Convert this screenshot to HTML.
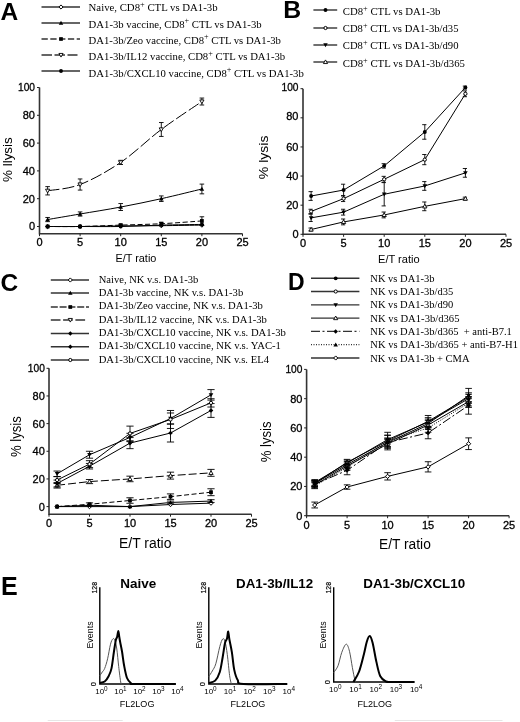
<!DOCTYPE html>
<html><head><meta charset="utf-8"><style>
html,body{margin:0;padding:0;background:#fff;width:520px;height:722px;overflow:hidden;}
svg{display:block;filter:grayscale(1) blur(0.35px);}
</style></head><body>
<svg width="520" height="722" viewBox="0 0 520 722">
<rect width="520" height="722" fill="#fff"/>
<text x="0.5" y="20" font-family="'Liberation Sans', sans-serif" font-weight="bold" font-size="24.5" fill="#000">A</text>
<text x="283.2" y="17.9" font-family="'Liberation Sans', sans-serif" font-weight="bold" font-size="24.8" fill="#000">B</text>
<text x="0.5" y="291.3" font-family="'Liberation Sans', sans-serif" font-weight="bold" font-size="24.5" fill="#000">C</text>
<text x="288" y="290" font-family="'Liberation Sans', sans-serif" font-weight="bold" font-size="23" fill="#000">D</text>
<text x="1" y="595" font-family="'Liberation Sans', sans-serif" font-weight="bold" font-size="25" fill="#000">E</text>
<path d="M41.5 7H80" stroke="#333" stroke-width="1.4"/>
<path d="M61 4.92L63.08 7L61 9.08L58.92 7Z" fill="#fff" stroke="#000" stroke-width="1"/>
<text x="88.6" y="10.9" font-family="'Liberation Serif', serif" font-size="10.7" textLength="129" lengthAdjust="spacingAndGlyphs" fill="#000" xml:space="preserve">Naive, CD8<tspan dy="-4.3" font-size="8.2">+</tspan><tspan dy="4.3"> CTL vs DA1-3b</tspan></text>
<path d="M41.5 23H80" stroke="#333" stroke-width="1.4"/>
<path d="M61 20.76L63.24 24.68L58.76 24.68Z" fill="#000"/>
<text x="88.6" y="27.6" font-family="'Liberation Serif', serif" font-size="10.7" textLength="173" lengthAdjust="spacingAndGlyphs" fill="#000" xml:space="preserve">DA1-3b vaccine, CD8<tspan dy="-4.3" font-size="8.2">+</tspan><tspan dy="4.3"> CTL vs DA1-3b</tspan></text>
<path d="M41.5 39H80" stroke="#333" stroke-width="1.4" stroke-dasharray="6.3 2.5"/>
<rect x="59.16" y="37.16" width="3.68" height="3.68" fill="#000"/>
<text x="88.6" y="43.7" font-family="'Liberation Serif', serif" font-size="10.7" textLength="192.3" lengthAdjust="spacingAndGlyphs" fill="#000" xml:space="preserve">DA1-3b/Zeo vaccine, CD8<tspan dy="-4.3" font-size="8.2">+</tspan><tspan dy="4.3"> CTL vs DA1-3b</tspan></text>
<path d="M41.5 55H77.5" stroke="#333" stroke-width="1.4" stroke-dasharray="10.5 2.5"/>
<path d="M61 57.08L63.08 53.44L58.92 53.44Z" fill="#fff" stroke="#000" stroke-width="0.9"/>
<text x="88.6" y="60.3" font-family="'Liberation Serif', serif" font-size="10.7" textLength="196.6" lengthAdjust="spacingAndGlyphs" fill="#000" xml:space="preserve">DA1-3b/IL12 vaccine, CD8<tspan dy="-4.3" font-size="8.2">+</tspan><tspan dy="4.3"> CTL vs DA1-3b</tspan></text>
<path d="M41.5 71H80" stroke="#333" stroke-width="1.4"/>
<circle cx="61" cy="71" r="1.92" fill="#000"/>
<text x="88.6" y="76.5" font-family="'Liberation Serif', serif" font-size="10.7" textLength="215.2" lengthAdjust="spacingAndGlyphs" fill="#000" xml:space="preserve">DA1-3b/CXCL10 vaccine, CD8<tspan dy="-4.3" font-size="8.2">+</tspan><tspan dy="4.3"> CTL vs DA1-3b</tspan></text>
<path d="M313.4 10H337.2" stroke="#333" stroke-width="1.4"/>
<circle cx="325.5" cy="10" r="1.92" fill="#000"/>
<text x="342.8" y="15.3" font-family="'Liberation Serif', serif" font-size="10.7" textLength="97.7" lengthAdjust="spacingAndGlyphs" fill="#000" xml:space="preserve">CD8<tspan dy="-4.3" font-size="8.2">+</tspan><tspan dy="4.3"> CTL vs DA1-3b</tspan></text>
<path d="M313.4 28H337.2" stroke="#333" stroke-width="1.4"/>
<circle cx="325.5" cy="28" r="1.6" fill="#fff" stroke="#000" stroke-width="1"/>
<text x="342.8" y="32.3" font-family="'Liberation Serif', serif" font-size="10.7" textLength="115.7" lengthAdjust="spacingAndGlyphs" fill="#000" xml:space="preserve">CD8<tspan dy="-4.3" font-size="8.2">+</tspan><tspan dy="4.3"> CTL vs DA1-3b/d35</tspan></text>
<path d="M313.4 45H337.2" stroke="#333" stroke-width="1.4"/>
<path d="M325.5 47.24L327.74 43.32L323.26 43.32Z" fill="#000"/>
<text x="342.8" y="49.4" font-family="'Liberation Serif', serif" font-size="10.7" textLength="115.7" lengthAdjust="spacingAndGlyphs" fill="#000" xml:space="preserve">CD8<tspan dy="-4.3" font-size="8.2">+</tspan><tspan dy="4.3"> CTL vs DA1-3b/d90</tspan></text>
<path d="M313.4 62H337.2" stroke="#333" stroke-width="1.4"/>
<path d="M325.5 59.92L327.58 63.56L323.42 63.56Z" fill="#fff" stroke="#000" stroke-width="0.9"/>
<text x="342.8" y="67.2" font-family="'Liberation Serif', serif" font-size="10.7" textLength="122.2" lengthAdjust="spacingAndGlyphs" fill="#000" xml:space="preserve">CD8<tspan dy="-4.3" font-size="8.2">+</tspan><tspan dy="4.3"> CTL vs DA1-3b/d365</tspan></text>
<path d="M50.8 280H89" stroke="#333" stroke-width="1.4"/>
<path d="M70.3 277.92L72.38 280L70.3 282.08L68.22 280Z" fill="#fff" stroke="#000" stroke-width="1"/>
<text x="98.7" y="282.9" font-family="'Liberation Serif', serif" font-size="10.6" textLength="99.6" lengthAdjust="spacingAndGlyphs" fill="#000" xml:space="preserve">Naive, NK v.s. DA1-3b</text>
<path d="M50.8 293H89" stroke="#333" stroke-width="1.4"/>
<path d="M70.3 290.76L72.54 294.68L68.06 294.68Z" fill="#000"/>
<text x="98.7" y="296" font-family="'Liberation Serif', serif" font-size="10.6" textLength="144.5" lengthAdjust="spacingAndGlyphs" fill="#000" xml:space="preserve">DA1-3b vaccine, NK v.s. DA1-3b</text>
<path d="M50.8 307H89" stroke="#333" stroke-width="1.4" stroke-dasharray="7 1.8"/>
<rect x="68.46" y="305.16" width="3.68" height="3.68" fill="#000"/>
<text x="98.7" y="309.3" font-family="'Liberation Serif', serif" font-size="10.6" textLength="164.2" lengthAdjust="spacingAndGlyphs" fill="#000" xml:space="preserve">DA1-3b/Zeo vaccine, NK v.s. DA1-3b</text>
<path d="M50.8 320H86.6" stroke="#333" stroke-width="1.4" stroke-dasharray="9.7 2.6"/>
<path d="M70.3 322.08L72.38 318.44L68.22 318.44Z" fill="#fff" stroke="#000" stroke-width="0.9"/>
<text x="98.7" y="322.6" font-family="'Liberation Serif', serif" font-size="10.6" textLength="168.2" lengthAdjust="spacingAndGlyphs" fill="#000" xml:space="preserve">DA1-3b/IL12 vaccine, NK v.s. DA1-3b</text>
<path d="M50.8 333.5H89" stroke="#333" stroke-width="1.4"/>
<path d="M70.3 331.26L72.54 333.5L70.3 335.74L68.06 333.5Z" fill="#000"/>
<text x="98.7" y="336.1" font-family="'Liberation Serif', serif" font-size="10.6" textLength="187.1" lengthAdjust="spacingAndGlyphs" fill="#000" xml:space="preserve">DA1-3b/CXCL10 vaccine, NK v.s. DA1-3b</text>
<path d="M50.8 346.8H89" stroke="#333" stroke-width="1.4"/>
<path d="M70.3 344.56L72.54 346.8L70.3 349.04L68.06 346.8Z" fill="#000"/>
<text x="98.7" y="349.4" font-family="'Liberation Serif', serif" font-size="10.6" textLength="182.2" lengthAdjust="spacingAndGlyphs" fill="#000" xml:space="preserve">DA1-3b/CXCL10 vaccine, NK v.s. YAC-1</text>
<path d="M50.8 360H89" stroke="#333" stroke-width="1.4"/>
<circle cx="70.3" cy="360" r="1.6" fill="#fff" stroke="#000" stroke-width="1"/>
<text x="98.7" y="362.9" font-family="'Liberation Serif', serif" font-size="10.6" textLength="170.3" lengthAdjust="spacingAndGlyphs" fill="#000" xml:space="preserve">DA1-3b/CXCL10 vaccine, NK v.s. EL4</text>
<path d="M311 278.3H359.4" stroke="#333" stroke-width="1.4"/>
<circle cx="335.7" cy="278.3" r="1.92" fill="#000"/>
<text x="370.3" y="281.7" font-family="'Liberation Serif', serif" font-size="10.5" textLength="64.2" lengthAdjust="spacingAndGlyphs" fill="#000" xml:space="preserve">NK vs DA1-3b</text>
<path d="M311 291.5H359.4" stroke="#333" stroke-width="1.4"/>
<circle cx="335.7" cy="291.5" r="1.6" fill="#fff" stroke="#000" stroke-width="1"/>
<text x="370.3" y="295" font-family="'Liberation Serif', serif" font-size="10.5" textLength="83" lengthAdjust="spacingAndGlyphs" fill="#000" xml:space="preserve">NK vs DA1-3b/d35</text>
<path d="M311 304.9H359.4" stroke="#333" stroke-width="1.4"/>
<path d="M335.7 307.14L337.94 303.22L333.46 303.22Z" fill="#000"/>
<text x="370.3" y="308.3" font-family="'Liberation Serif', serif" font-size="10.5" textLength="83" lengthAdjust="spacingAndGlyphs" fill="#000" xml:space="preserve">NK vs DA1-3b/d90</text>
<path d="M311 318.1H359.4" stroke="#333" stroke-width="1.4"/>
<path d="M335.7 316.02L337.78 319.66L333.62 319.66Z" fill="#fff" stroke="#000" stroke-width="0.9"/>
<text x="370.3" y="321.5" font-family="'Liberation Serif', serif" font-size="10.5" textLength="89.2" lengthAdjust="spacingAndGlyphs" fill="#000" xml:space="preserve">NK vs DA1-3b/d365</text>
<path d="M311 331.4H359.4" stroke="#333" stroke-width="1.4" stroke-dasharray="9 2.5 2 2.5"/>
<path d="M335.7 329.16L337.94 331.4L335.7 333.64L333.46 331.4Z" fill="#000"/>
<text x="370.3" y="334.8" font-family="'Liberation Serif', serif" font-size="10.5" textLength="141.5" lengthAdjust="spacingAndGlyphs" fill="#000" xml:space="preserve">NK vs DA1-3b/d365  + anti-B7.1</text>
<path d="M311 344.7H359.4" stroke="#333" stroke-width="1.2" stroke-dasharray="1 1.5"/>
<path d="M335.7 342.46L337.94 346.38L333.46 346.38Z" fill="#000"/>
<text x="370.3" y="348.1" font-family="'Liberation Serif', serif" font-size="10.5" textLength="147.7" lengthAdjust="spacingAndGlyphs" fill="#000" xml:space="preserve">NK vs DA1-3b/d365 + anti-B7-H1</text>
<path d="M311 358H359.4" stroke="#333" stroke-width="1.4"/>
<path d="M335.7 355.92L337.78 358L335.7 360.08L333.62 358Z" fill="#fff" stroke="#000" stroke-width="1"/>
<text x="370.3" y="361.6" font-family="'Liberation Serif', serif" font-size="10.5" textLength="99.2" lengthAdjust="spacingAndGlyphs" fill="#000" xml:space="preserve">NK vs DA1-3b + CMA</text>
<path d="M39.5 87.5V233.7H242.5" fill="none" stroke="#333" stroke-width="1.6"/>
<path d="M37 226.5H39.5" stroke="#222" stroke-width="1"/>
<text x="35" y="230.4" font-family="'Liberation Sans', sans-serif" font-size="11" text-anchor="end" fill="#000" stroke="#000" stroke-width="0.3">0</text>
<path d="M37 198.7H39.5" stroke="#222" stroke-width="1"/>
<text x="35" y="202.6" font-family="'Liberation Sans', sans-serif" font-size="11" text-anchor="end" fill="#000" stroke="#000" stroke-width="0.3">20</text>
<path d="M37 170.9H39.5" stroke="#222" stroke-width="1"/>
<text x="35" y="174.8" font-family="'Liberation Sans', sans-serif" font-size="11" text-anchor="end" fill="#000" stroke="#000" stroke-width="0.3">40</text>
<path d="M37 143.1H39.5" stroke="#222" stroke-width="1"/>
<text x="35" y="147" font-family="'Liberation Sans', sans-serif" font-size="11" text-anchor="end" fill="#000" stroke="#000" stroke-width="0.3">60</text>
<path d="M37 115.3H39.5" stroke="#222" stroke-width="1"/>
<text x="35" y="119.2" font-family="'Liberation Sans', sans-serif" font-size="11" text-anchor="end" fill="#000" stroke="#000" stroke-width="0.3">80</text>
<path d="M37 87.5H39.5" stroke="#222" stroke-width="1"/>
<text x="35" y="91.4" font-family="'Liberation Sans', sans-serif" font-size="11" text-anchor="end" textLength="17" lengthAdjust="spacingAndGlyphs" fill="#000" stroke="#000" stroke-width="0.3">100</text>
<path d="M39.5 233.7V236.2" stroke="#222" stroke-width="1"/>
<text x="39.5" y="246" font-family="'Liberation Sans', sans-serif" font-size="11" text-anchor="middle" fill="#000" stroke="#000" stroke-width="0.3">0</text>
<path d="M80.1 233.7V236.2" stroke="#222" stroke-width="1"/>
<text x="80.1" y="246" font-family="'Liberation Sans', sans-serif" font-size="11" text-anchor="middle" fill="#000" stroke="#000" stroke-width="0.3">5</text>
<path d="M120.7 233.7V236.2" stroke="#222" stroke-width="1"/>
<text x="120.7" y="246" font-family="'Liberation Sans', sans-serif" font-size="11" text-anchor="middle" fill="#000" stroke="#000" stroke-width="0.3">10</text>
<path d="M161.3 233.7V236.2" stroke="#222" stroke-width="1"/>
<text x="161.3" y="246" font-family="'Liberation Sans', sans-serif" font-size="11" text-anchor="middle" fill="#000" stroke="#000" stroke-width="0.3">15</text>
<path d="M201.9 233.7V236.2" stroke="#222" stroke-width="1"/>
<text x="201.9" y="246" font-family="'Liberation Sans', sans-serif" font-size="11" text-anchor="middle" fill="#000" stroke="#000" stroke-width="0.3">20</text>
<path d="M242.5 233.7V236.2" stroke="#222" stroke-width="1"/>
<text x="242.5" y="246" font-family="'Liberation Sans', sans-serif" font-size="11" text-anchor="middle" fill="#000" stroke="#000" stroke-width="0.3">25</text>
<text x="115.4" y="261.5" font-family="'Liberation Sans', sans-serif" font-size="11" textLength="41" lengthAdjust="spacingAndGlyphs" fill="#000">E/T ratio</text>
<text transform="translate(11.9 181.9) rotate(-90)" x="0" y="0" font-family="'Liberation Sans', sans-serif" font-size="12.8" textLength="44.6" lengthAdjust="spacingAndGlyphs" fill="#000">% llysis</text>
<path d="M47.62 226.5C53.03 226.5 67.92 226.59 80.1 226.5C92.28 226.41 107.17 226.08 120.7 225.94C134.23 225.8 147.77 225.81 161.3 225.67C174.83 225.53 195.13 225.2 201.9 225.11" fill="none" stroke="#000" stroke-width="1"/>
<path d="M47.62 224.37L49.75 226.5L47.62 228.63L45.49 226.5Z" fill="#fff" stroke="#000" stroke-width="1"/>
<path d="M80.1 224.37L82.23 226.5L80.1 228.63L77.97 226.5Z" fill="#fff" stroke="#000" stroke-width="1"/>
<path d="M120.7 223.81L122.83 225.94L120.7 228.08L118.57 225.94Z" fill="#fff" stroke="#000" stroke-width="1"/>
<path d="M161.3 223.53L163.43 225.67L161.3 227.8L159.17 225.67Z" fill="#fff" stroke="#000" stroke-width="1"/>
<path d="M201.9 222.98L204.03 225.11L201.9 227.24L199.77 225.11Z" fill="#fff" stroke="#000" stroke-width="1"/>
<path d="M47.62 219.55C53.03 218.62 67.92 216.08 80.1 213.99C92.28 211.91 107.17 209.59 120.7 207.04C134.23 204.49 147.77 201.71 161.3 198.7C174.83 195.69 195.13 190.59 201.9 188.97" fill="none" stroke="#000" stroke-width="1"/>
<path d="M47.62 217.47V221.64M45.32 217.47H49.92M45.32 221.64H49.92" stroke="#000" stroke-width="0.9" fill="none"/>
<path d="M80.1 211.91V216.08M77.8 211.91H82.4M77.8 216.08H82.4" stroke="#000" stroke-width="0.9" fill="none"/>
<path d="M120.7 203.56V210.51M118.4 203.56H123M118.4 210.51H123" stroke="#000" stroke-width="0.9" fill="none"/>
<path d="M161.3 195.92V201.48M159 195.92H163.6M159 201.48H163.6" stroke="#000" stroke-width="0.9" fill="none"/>
<path d="M201.9 184.1V193.84M199.6 184.1H204.2M199.6 193.84H204.2" stroke="#000" stroke-width="0.9" fill="none"/>
<path d="M47.62 217.25L49.92 221.27L45.32 221.27Z" fill="#000"/>
<path d="M80.1 211.69L82.4 215.71L77.8 215.71Z" fill="#000"/>
<path d="M120.7 204.74L123 208.76L118.4 208.76Z" fill="#000"/>
<path d="M161.3 196.4L163.6 200.42L159 200.42Z" fill="#000"/>
<path d="M201.9 186.67L204.2 190.69L199.6 190.69Z" fill="#000"/>
<path d="M47.62 226.5C53.03 226.5 67.92 226.73 80.1 226.5C92.28 226.27 107.17 225.57 120.7 225.11C134.23 224.65 147.77 224.41 161.3 223.72C174.83 223.03 195.13 221.4 201.9 220.94" fill="none" stroke="#000" stroke-width="1" stroke-dasharray="5 2.5"/>
<path d="M120.7 224.28V225.94M118.4 224.28H123M118.4 225.94H123" stroke="#000" stroke-width="0.9" fill="none"/>
<path d="M161.3 222.33V225.11M159 222.33H163.6M159 225.11H163.6" stroke="#000" stroke-width="0.9" fill="none"/>
<path d="M201.9 216.77V225.11M199.6 216.77H204.2M199.6 225.11H204.2" stroke="#000" stroke-width="0.9" fill="none"/>
<rect x="45.73" y="224.61" width="3.77" height="3.77" fill="#000"/>
<rect x="78.21" y="224.61" width="3.77" height="3.77" fill="#000"/>
<rect x="118.81" y="223.22" width="3.77" height="3.77" fill="#000"/>
<rect x="159.41" y="221.83" width="3.77" height="3.77" fill="#000"/>
<rect x="200.01" y="219.05" width="3.77" height="3.77" fill="#000"/>
<path d="M47.62 190.78C53.03 189.73 67.92 189.25 80.1 184.52C92.28 179.8 107.17 171.59 120.7 162.42C134.23 153.25 147.77 139.62 161.3 129.48C174.83 119.33 195.13 106.2 201.9 101.54" fill="none" stroke="#000" stroke-width="1" stroke-dasharray="12 3"/>
<path d="M47.62 186.61V194.95M45.32 186.61H49.92M45.32 194.95H49.92" stroke="#000" stroke-width="0.9" fill="none"/>
<path d="M80.1 178.96V190.08M77.8 178.96H82.4M77.8 190.08H82.4" stroke="#000" stroke-width="0.9" fill="none"/>
<path d="M120.7 160.34V164.51M118.4 160.34H123M118.4 164.51H123" stroke="#000" stroke-width="0.9" fill="none"/>
<path d="M161.3 122.53V136.43M159 122.53H163.6M159 136.43H163.6" stroke="#000" stroke-width="0.9" fill="none"/>
<path d="M201.9 98.06V105.01M199.6 98.06H204.2M199.6 105.01H204.2" stroke="#000" stroke-width="0.9" fill="none"/>
<path d="M47.62 192.91L49.75 189.18L45.49 189.18Z" fill="#fff" stroke="#000" stroke-width="0.9"/>
<path d="M80.1 186.65L82.23 182.92L77.97 182.92Z" fill="#fff" stroke="#000" stroke-width="0.9"/>
<path d="M120.7 164.55L122.83 160.82L118.57 160.82Z" fill="#fff" stroke="#000" stroke-width="0.9"/>
<path d="M161.3 131.61L163.43 127.88L159.17 127.88Z" fill="#fff" stroke="#000" stroke-width="0.9"/>
<path d="M201.9 103.67L204.03 99.94L199.77 99.94Z" fill="#fff" stroke="#000" stroke-width="0.9"/>
<path d="M47.62 226.5C53.03 226.5 67.92 226.5 80.1 226.5C92.28 226.5 107.17 226.73 120.7 226.5C134.23 226.27 147.77 225.46 161.3 225.11C174.83 224.76 195.13 224.53 201.9 224.41" fill="none" stroke="#000" stroke-width="1"/>
<circle cx="47.62" cy="226.5" r="1.97" fill="#000"/>
<circle cx="80.1" cy="226.5" r="1.97" fill="#000"/>
<circle cx="120.7" cy="226.5" r="1.97" fill="#000"/>
<circle cx="161.3" cy="225.11" r="1.97" fill="#000"/>
<circle cx="201.9" cy="224.41" r="1.97" fill="#000"/>
<path d="M303 88.7V234.3H506" fill="none" stroke="#333" stroke-width="1.6"/>
<path d="M300.5 234.3H303" stroke="#222" stroke-width="1"/>
<text x="298.5" y="238.2" font-family="'Liberation Sans', sans-serif" font-size="11" text-anchor="end" fill="#000" stroke="#000" stroke-width="0.3">0</text>
<path d="M300.5 205.18H303" stroke="#222" stroke-width="1"/>
<text x="298.5" y="209.08" font-family="'Liberation Sans', sans-serif" font-size="11" text-anchor="end" fill="#000" stroke="#000" stroke-width="0.3">20</text>
<path d="M300.5 176.06H303" stroke="#222" stroke-width="1"/>
<text x="298.5" y="179.96" font-family="'Liberation Sans', sans-serif" font-size="11" text-anchor="end" fill="#000" stroke="#000" stroke-width="0.3">40</text>
<path d="M300.5 146.94H303" stroke="#222" stroke-width="1"/>
<text x="298.5" y="150.84" font-family="'Liberation Sans', sans-serif" font-size="11" text-anchor="end" fill="#000" stroke="#000" stroke-width="0.3">60</text>
<path d="M300.5 117.82H303" stroke="#222" stroke-width="1"/>
<text x="298.5" y="119.72" font-family="'Liberation Sans', sans-serif" font-size="11" text-anchor="end" fill="#000" stroke="#000" stroke-width="0.3">80</text>
<path d="M300.5 88.7H303" stroke="#222" stroke-width="1"/>
<text x="298.5" y="91.1" font-family="'Liberation Sans', sans-serif" font-size="11" text-anchor="end" textLength="17" lengthAdjust="spacingAndGlyphs" fill="#000" stroke="#000" stroke-width="0.3">100</text>
<path d="M303 234.3V236.8" stroke="#222" stroke-width="1"/>
<text x="303" y="247" font-family="'Liberation Sans', sans-serif" font-size="11" text-anchor="middle" fill="#000" stroke="#000" stroke-width="0.3">0</text>
<path d="M343.6 234.3V236.8" stroke="#222" stroke-width="1"/>
<text x="343.6" y="247" font-family="'Liberation Sans', sans-serif" font-size="11" text-anchor="middle" fill="#000" stroke="#000" stroke-width="0.3">5</text>
<path d="M384.2 234.3V236.8" stroke="#222" stroke-width="1"/>
<text x="384.2" y="247" font-family="'Liberation Sans', sans-serif" font-size="11" text-anchor="middle" fill="#000" stroke="#000" stroke-width="0.3">10</text>
<path d="M424.8 234.3V236.8" stroke="#222" stroke-width="1"/>
<text x="424.8" y="247" font-family="'Liberation Sans', sans-serif" font-size="11" text-anchor="middle" fill="#000" stroke="#000" stroke-width="0.3">15</text>
<path d="M465.4 234.3V236.8" stroke="#222" stroke-width="1"/>
<text x="465.4" y="247" font-family="'Liberation Sans', sans-serif" font-size="11" text-anchor="middle" fill="#000" stroke="#000" stroke-width="0.3">20</text>
<path d="M506 234.3V236.8" stroke="#222" stroke-width="1"/>
<text x="506" y="247" font-family="'Liberation Sans', sans-serif" font-size="11" text-anchor="middle" fill="#000" stroke="#000" stroke-width="0.3">25</text>
<text x="378" y="262.5" font-family="'Liberation Sans', sans-serif" font-size="11" textLength="41.6" lengthAdjust="spacingAndGlyphs" fill="#000">E/T ratio</text>
<text transform="translate(268 179.2) rotate(-90)" x="0" y="0" font-family="'Liberation Sans', sans-serif" font-size="13" textLength="43.6" lengthAdjust="spacingAndGlyphs" fill="#000">% lysis</text>
<path d="M311.12 196.01L343.6 190.04L384.2 165.87L424.8 131.94L465.4 87.54" fill="none" stroke="#000" stroke-width="1"/>
<path d="M311.12 191.64V200.38M308.52 191.64H312.72M308.52 200.38H312.72" stroke="#000" stroke-width="0.9" fill="none"/>
<path d="M343.6 184.21V195.86M341 184.21H345.2M341 195.86H345.2" stroke="#000" stroke-width="0.9" fill="none"/>
<path d="M384.2 163.68V168.05M381.6 163.68H385.8M381.6 168.05H385.8" stroke="#000" stroke-width="0.9" fill="none"/>
<path d="M424.8 124.66V139.22M422.2 124.66H426.4M422.2 139.22H426.4" stroke="#000" stroke-width="0.9" fill="none"/>
<path d="M465.4 86.08V88.99M462.8 86.08H467M462.8 88.99H467" stroke="#000" stroke-width="0.9" fill="none"/>
<circle cx="311.12" cy="196.01" r="1.97" fill="#000"/>
<circle cx="343.6" cy="190.04" r="1.97" fill="#000"/>
<circle cx="384.2" cy="165.87" r="1.97" fill="#000"/>
<circle cx="424.8" cy="131.94" r="1.97" fill="#000"/>
<circle cx="465.4" cy="87.54" r="1.97" fill="#000"/>
<path d="M311.12 211.44L343.6 198.63L384.2 179.26L424.8 159.61L465.4 93.8" fill="none" stroke="#000" stroke-width="1"/>
<path d="M311.12 209.26V213.62M308.52 209.26H312.72M308.52 213.62H312.72" stroke="#000" stroke-width="0.9" fill="none"/>
<path d="M343.6 195.72V201.54M341 195.72H345.2M341 201.54H345.2" stroke="#000" stroke-width="0.9" fill="none"/>
<path d="M384.2 176.35V182.18M381.6 176.35H385.8M381.6 182.18H385.8" stroke="#000" stroke-width="0.9" fill="none"/>
<path d="M424.8 154.51V164.7M422.2 154.51H426.4M422.2 164.7H426.4" stroke="#000" stroke-width="0.9" fill="none"/>
<path d="M465.4 90.88V96.71M462.8 90.88H467M462.8 96.71H467" stroke="#000" stroke-width="0.9" fill="none"/>
<circle cx="311.12" cy="211.44" r="1.64" fill="#fff" stroke="#000" stroke-width="1"/>
<circle cx="343.6" cy="198.63" r="1.64" fill="#fff" stroke="#000" stroke-width="1"/>
<circle cx="384.2" cy="179.26" r="1.64" fill="#fff" stroke="#000" stroke-width="1"/>
<circle cx="424.8" cy="159.61" r="1.64" fill="#fff" stroke="#000" stroke-width="1"/>
<circle cx="465.4" cy="93.8" r="1.64" fill="#fff" stroke="#000" stroke-width="1"/>
<path d="M311.12 217.85L343.6 212.17L384.2 194.26L424.8 185.96L465.4 172.86" fill="none" stroke="#000" stroke-width="1"/>
<path d="M311.12 214.21V221.49M308.52 214.21H312.72M308.52 221.49H312.72" stroke="#000" stroke-width="0.9" fill="none"/>
<path d="M343.6 209.26V215.08M341 209.26H345.2M341 215.08H345.2" stroke="#000" stroke-width="0.9" fill="none"/>
<path d="M384.2 182.61V205.91M381.6 182.61H385.8M381.6 205.91H385.8" stroke="#000" stroke-width="0.9" fill="none"/>
<path d="M424.8 181.59V190.33M422.2 181.59H426.4M422.2 190.33H426.4" stroke="#000" stroke-width="0.9" fill="none"/>
<path d="M465.4 168.49V177.22M462.8 168.49H467M462.8 177.22H467" stroke="#000" stroke-width="0.9" fill="none"/>
<path d="M311.12 220.14L313.42 216.13L308.82 216.13Z" fill="#000"/>
<path d="M343.6 214.46L345.9 210.45L341.3 210.45Z" fill="#000"/>
<path d="M384.2 196.56L386.5 192.54L381.9 192.54Z" fill="#000"/>
<path d="M424.8 188.26L427.1 184.24L422.5 184.24Z" fill="#000"/>
<path d="M465.4 175.15L467.7 171.13L463.1 171.13Z" fill="#000"/>
<path d="M311.12 229.5L343.6 221.92L384.2 214.94L424.8 206.34L465.4 198.63" fill="none" stroke="#000" stroke-width="1"/>
<path d="M311.12 228.04V230.95M308.52 228.04H312.72M308.52 230.95H312.72" stroke="#000" stroke-width="0.9" fill="none"/>
<path d="M343.6 219.01V224.84M341 219.01H345.2M341 224.84H345.2" stroke="#000" stroke-width="0.9" fill="none"/>
<path d="M384.2 212.02V217.85M381.6 212.02H385.8M381.6 217.85H385.8" stroke="#000" stroke-width="0.9" fill="none"/>
<path d="M424.8 201.98V210.71M422.2 201.98H426.4M422.2 210.71H426.4" stroke="#000" stroke-width="0.9" fill="none"/>
<path d="M465.4 197.17V200.08M462.8 197.17H467M462.8 200.08H467" stroke="#000" stroke-width="0.9" fill="none"/>
<path d="M311.12 227.36L313.25 231.09L308.99 231.09Z" fill="#fff" stroke="#000" stroke-width="0.9"/>
<path d="M343.6 219.79L345.73 223.52L341.47 223.52Z" fill="#fff" stroke="#000" stroke-width="0.9"/>
<path d="M384.2 212.8L386.33 216.53L382.07 216.53Z" fill="#fff" stroke="#000" stroke-width="0.9"/>
<path d="M424.8 204.21L426.93 207.94L422.67 207.94Z" fill="#fff" stroke="#000" stroke-width="0.9"/>
<path d="M465.4 196.5L467.53 200.23L463.27 200.23Z" fill="#fff" stroke="#000" stroke-width="0.9"/>
<path d="M49 368.3V514.2H251.5" fill="none" stroke="#333" stroke-width="1.6"/>
<path d="M46.5 506.6H49" stroke="#222" stroke-width="1"/>
<text x="44.8" y="510.5" font-family="'Liberation Sans', sans-serif" font-size="11" text-anchor="end" fill="#000" stroke="#000" stroke-width="0.3">0</text>
<path d="M46.5 478.94H49" stroke="#222" stroke-width="1"/>
<text x="44.8" y="482.84" font-family="'Liberation Sans', sans-serif" font-size="11" text-anchor="end" fill="#000" stroke="#000" stroke-width="0.3">20</text>
<path d="M46.5 451.28H49" stroke="#222" stroke-width="1"/>
<text x="44.8" y="455.18" font-family="'Liberation Sans', sans-serif" font-size="11" text-anchor="end" fill="#000" stroke="#000" stroke-width="0.3">40</text>
<path d="M46.5 423.62H49" stroke="#222" stroke-width="1"/>
<text x="44.8" y="427.52" font-family="'Liberation Sans', sans-serif" font-size="11" text-anchor="end" fill="#000" stroke="#000" stroke-width="0.3">60</text>
<path d="M46.5 395.96H49" stroke="#222" stroke-width="1"/>
<text x="44.8" y="399.86" font-family="'Liberation Sans', sans-serif" font-size="11" text-anchor="end" fill="#000" stroke="#000" stroke-width="0.3">80</text>
<path d="M46.5 368.3H49" stroke="#222" stroke-width="1"/>
<text x="44.8" y="372.2" font-family="'Liberation Sans', sans-serif" font-size="11" text-anchor="end" textLength="17" lengthAdjust="spacingAndGlyphs" fill="#000" stroke="#000" stroke-width="0.3">100</text>
<path d="M49 514.2V516.7" stroke="#222" stroke-width="1"/>
<text x="49" y="527" font-family="'Liberation Sans', sans-serif" font-size="11" text-anchor="middle" fill="#000" stroke="#000" stroke-width="0.3">0</text>
<path d="M89.5 514.2V516.7" stroke="#222" stroke-width="1"/>
<text x="89.5" y="527" font-family="'Liberation Sans', sans-serif" font-size="11" text-anchor="middle" fill="#000" stroke="#000" stroke-width="0.3">5</text>
<path d="M130 514.2V516.7" stroke="#222" stroke-width="1"/>
<text x="130" y="527" font-family="'Liberation Sans', sans-serif" font-size="11" text-anchor="middle" fill="#000" stroke="#000" stroke-width="0.3">10</text>
<path d="M170.5 514.2V516.7" stroke="#222" stroke-width="1"/>
<text x="170.5" y="527" font-family="'Liberation Sans', sans-serif" font-size="11" text-anchor="middle" fill="#000" stroke="#000" stroke-width="0.3">15</text>
<path d="M211 514.2V516.7" stroke="#222" stroke-width="1"/>
<text x="211" y="527" font-family="'Liberation Sans', sans-serif" font-size="11" text-anchor="middle" fill="#000" stroke="#000" stroke-width="0.3">20</text>
<path d="M251.5 514.2V516.7" stroke="#222" stroke-width="1"/>
<text x="251.5" y="527" font-family="'Liberation Sans', sans-serif" font-size="11" text-anchor="middle" fill="#000" stroke="#000" stroke-width="0.3">25</text>
<text x="119" y="547.5" font-family="'Liberation Sans', sans-serif" font-size="14" textLength="52.4" lengthAdjust="spacingAndGlyphs" fill="#000">E/T ratio</text>
<text transform="translate(21.2 457) rotate(-90)" x="0" y="0" font-family="'Liberation Sans', sans-serif" font-size="13.8" textLength="40.8" lengthAdjust="spacingAndGlyphs" fill="#000">% lysis</text>
<path d="M57.1 506.6L89.5 506.6L130 506.6L170.5 504.53L211 503.14" fill="none" stroke="#000" stroke-width="1"/>
<path d="M57.1 504.47L59.23 506.6L57.1 508.73L54.97 506.6Z" fill="#fff" stroke="#000" stroke-width="1"/>
<path d="M89.5 504.47L91.63 506.6L89.5 508.73L87.37 506.6Z" fill="#fff" stroke="#000" stroke-width="1"/>
<path d="M130 504.47L132.13 506.6L130 508.73L127.87 506.6Z" fill="#fff" stroke="#000" stroke-width="1"/>
<path d="M170.5 502.39L172.63 504.53L170.5 506.66L168.37 504.53Z" fill="#fff" stroke="#000" stroke-width="1"/>
<path d="M211 501.01L213.13 503.14L211 505.27L208.87 503.14Z" fill="#fff" stroke="#000" stroke-width="1"/>
<path d="M57.1 506.6L89.5 505.22L130 506.6L170.5 502.45L211 501.07" fill="none" stroke="#000" stroke-width="1"/>
<path d="M170.5 501.07V503.83M166.9 501.07H174.1M166.9 503.83H174.1" stroke="#000" stroke-width="0.9" fill="none"/>
<path d="M211 499.69V502.45M207.4 499.69H214.6M207.4 502.45H214.6" stroke="#000" stroke-width="0.9" fill="none"/>
<path d="M57.1 504.3L59.4 508.32L54.8 508.32Z" fill="#000"/>
<path d="M89.5 502.92L91.8 506.94L87.2 506.94Z" fill="#000"/>
<path d="M130 504.3L132.3 508.32L127.7 508.32Z" fill="#000"/>
<path d="M170.5 500.16L172.8 504.17L168.2 504.17Z" fill="#000"/>
<path d="M211 498.77L213.3 502.79L208.7 502.79Z" fill="#000"/>
<path d="M57.1 506.6L89.5 504.25L130 500.51L170.5 496.64L211 492.22" fill="none" stroke="#000" stroke-width="1" stroke-dasharray="5 2.5"/>
<path d="M89.5 502.87V505.63M85.9 502.87H93.1M85.9 505.63H93.1" stroke="#000" stroke-width="0.9" fill="none"/>
<path d="M130 497.75V503.28M126.4 497.75H133.6M126.4 503.28H133.6" stroke="#000" stroke-width="0.9" fill="none"/>
<path d="M170.5 493.88V499.41M166.9 493.88H174.1M166.9 499.41H174.1" stroke="#000" stroke-width="0.9" fill="none"/>
<path d="M211 488.76V495.67M207.4 488.76H214.6M207.4 495.67H214.6" stroke="#000" stroke-width="0.9" fill="none"/>
<rect x="55.21" y="504.71" width="3.77" height="3.77" fill="#000"/>
<rect x="87.61" y="502.36" width="3.77" height="3.77" fill="#000"/>
<rect x="128.11" y="498.63" width="3.77" height="3.77" fill="#000"/>
<rect x="168.61" y="494.76" width="3.77" height="3.77" fill="#000"/>
<rect x="209.11" y="490.33" width="3.77" height="3.77" fill="#000"/>
<path d="M57.1 485.3L89.5 481.57L130 478.94L170.5 475.62L211 472.85" fill="none" stroke="#000" stroke-width="1" stroke-dasharray="8 3"/>
<path d="M57.1 482.54V488.07M53.5 482.54H60.7M53.5 488.07H60.7" stroke="#000" stroke-width="0.9" fill="none"/>
<path d="M89.5 479.49V483.64M85.9 479.49H93.1M85.9 483.64H93.1" stroke="#000" stroke-width="0.9" fill="none"/>
<path d="M130 476.17V481.71M126.4 476.17H133.6M126.4 481.71H133.6" stroke="#000" stroke-width="0.9" fill="none"/>
<path d="M170.5 472.16V479.08M166.9 472.16H174.1M166.9 479.08H174.1" stroke="#000" stroke-width="0.9" fill="none"/>
<path d="M211 469.4V476.31M207.4 469.4H214.6M207.4 476.31H214.6" stroke="#000" stroke-width="0.9" fill="none"/>
<path d="M57.1 483.17L59.23 486.9L54.97 486.9Z" fill="#fff" stroke="#000" stroke-width="0.9"/>
<path d="M89.5 479.44L91.63 483.17L87.37 483.17Z" fill="#fff" stroke="#000" stroke-width="0.9"/>
<path d="M130 476.81L132.13 480.54L127.87 480.54Z" fill="#fff" stroke="#000" stroke-width="0.9"/>
<path d="M170.5 473.49L172.63 477.22L168.37 477.22Z" fill="#fff" stroke="#000" stroke-width="0.9"/>
<path d="M211 470.72L213.13 474.45L208.87 474.45Z" fill="#fff" stroke="#000" stroke-width="0.9"/>
<path d="M57.1 483.5L89.5 466.22L130 443.12L170.5 433.02L211 410.48" fill="none" stroke="#000" stroke-width="1"/>
<path d="M57.1 480.05V486.96M53.5 480.05H60.7M53.5 486.96H60.7" stroke="#000" stroke-width="0.9" fill="none"/>
<path d="M89.5 463.45V468.98M85.9 463.45H93.1M85.9 468.98H93.1" stroke="#000" stroke-width="0.9" fill="none"/>
<path d="M130 437.59V448.65M126.4 437.59H133.6M126.4 448.65H133.6" stroke="#000" stroke-width="0.9" fill="none"/>
<path d="M170.5 424.03V442.01M166.9 424.03H174.1M166.9 442.01H174.1" stroke="#000" stroke-width="0.9" fill="none"/>
<path d="M211 403.57V417.4M207.4 403.57H214.6M207.4 417.4H214.6" stroke="#000" stroke-width="0.9" fill="none"/>
<path d="M57.1 481.21L59.4 483.5L57.1 485.8L54.8 483.5Z" fill="#000"/>
<path d="M89.5 463.92L91.8 466.22L89.5 468.51L87.2 466.22Z" fill="#000"/>
<path d="M130 440.82L132.3 443.12L130 445.42L127.7 443.12Z" fill="#000"/>
<path d="M170.5 430.73L172.8 433.02L170.5 435.32L168.2 433.02Z" fill="#000"/>
<path d="M211 408.19L213.3 410.48L211 412.78L208.7 410.48Z" fill="#000"/>
<path d="M57.1 473.82L89.5 454.74L130 437.45L170.5 418.5L211 394.85" fill="none" stroke="#000" stroke-width="1"/>
<path d="M57.1 471.06V476.59M53.5 471.06H60.7M53.5 476.59H60.7" stroke="#000" stroke-width="0.9" fill="none"/>
<path d="M89.5 451.28V458.19M85.9 451.28H93.1M85.9 458.19H93.1" stroke="#000" stroke-width="0.9" fill="none"/>
<path d="M130 433.3V441.6M126.4 433.3H133.6M126.4 441.6H133.6" stroke="#000" stroke-width="0.9" fill="none"/>
<path d="M170.5 412.97V424.03M166.9 412.97H174.1M166.9 424.03H174.1" stroke="#000" stroke-width="0.9" fill="none"/>
<path d="M211 389.6V400.11M207.4 389.6H214.6M207.4 400.11H214.6" stroke="#000" stroke-width="0.9" fill="none"/>
<path d="M57.1 476.12L59.4 472.1L54.8 472.1Z" fill="#000"/>
<path d="M89.5 457.03L91.8 453.02L87.2 453.02Z" fill="#000"/>
<path d="M130 439.75L132.3 435.73L127.7 435.73Z" fill="#000"/>
<path d="M170.5 420.8L172.8 416.78L168.2 416.78Z" fill="#000"/>
<path d="M211 397.15L213.3 393.13L208.7 393.13Z" fill="#000"/>
<path d="M57.1 480.05L89.5 464.14L130 433.44L170.5 419.47L211 402.88" fill="none" stroke="#000" stroke-width="1"/>
<path d="M57.1 476.59V483.5M53.5 476.59H60.7M53.5 483.5H60.7" stroke="#000" stroke-width="0.9" fill="none"/>
<path d="M89.5 460.68V467.6M85.9 460.68H93.1M85.9 467.6H93.1" stroke="#000" stroke-width="0.9" fill="none"/>
<path d="M130 426.11V440.77M126.4 426.11H133.6M126.4 440.77H133.6" stroke="#000" stroke-width="0.9" fill="none"/>
<path d="M170.5 410.48V428.46M166.9 410.48H174.1M166.9 428.46H174.1" stroke="#000" stroke-width="0.9" fill="none"/>
<path d="M211 398.73V407.02M207.4 398.73H214.6M207.4 407.02H214.6" stroke="#000" stroke-width="0.9" fill="none"/>
<circle cx="57.1" cy="480.05" r="1.64" fill="#fff" stroke="#000" stroke-width="1"/>
<circle cx="89.5" cy="464.14" r="1.64" fill="#fff" stroke="#000" stroke-width="1"/>
<circle cx="130" cy="433.44" r="1.64" fill="#fff" stroke="#000" stroke-width="1"/>
<circle cx="170.5" cy="419.47" r="1.64" fill="#fff" stroke="#000" stroke-width="1"/>
<circle cx="211" cy="402.88" r="1.64" fill="#fff" stroke="#000" stroke-width="1"/>
<path d="M306.6 369.4V515.7H509.1" fill="none" stroke="#333" stroke-width="1.6"/>
<path d="M304.1 515.7H306.6" stroke="#222" stroke-width="1"/>
<text x="302.4" y="519.6" font-family="'Liberation Sans', sans-serif" font-size="11" text-anchor="end" fill="#000" stroke="#000" stroke-width="0.3">0</text>
<path d="M304.1 486.44H306.6" stroke="#222" stroke-width="1"/>
<text x="302.4" y="490.34" font-family="'Liberation Sans', sans-serif" font-size="11" text-anchor="end" fill="#000" stroke="#000" stroke-width="0.3">20</text>
<path d="M304.1 457.18H306.6" stroke="#222" stroke-width="1"/>
<text x="302.4" y="461.08" font-family="'Liberation Sans', sans-serif" font-size="11" text-anchor="end" fill="#000" stroke="#000" stroke-width="0.3">40</text>
<path d="M304.1 427.92H306.6" stroke="#222" stroke-width="1"/>
<text x="302.4" y="431.82" font-family="'Liberation Sans', sans-serif" font-size="11" text-anchor="end" fill="#000" stroke="#000" stroke-width="0.3">60</text>
<path d="M304.1 398.66H306.6" stroke="#222" stroke-width="1"/>
<text x="302.4" y="402.56" font-family="'Liberation Sans', sans-serif" font-size="11" text-anchor="end" fill="#000" stroke="#000" stroke-width="0.3">80</text>
<path d="M304.1 369.4H306.6" stroke="#222" stroke-width="1"/>
<text x="302.4" y="373.3" font-family="'Liberation Sans', sans-serif" font-size="11" text-anchor="end" textLength="17" lengthAdjust="spacingAndGlyphs" fill="#000" stroke="#000" stroke-width="0.3">100</text>
<path d="M306.6 515.7V518.2" stroke="#222" stroke-width="1"/>
<text x="306.6" y="528.5" font-family="'Liberation Sans', sans-serif" font-size="11" text-anchor="middle" fill="#000" stroke="#000" stroke-width="0.3">0</text>
<path d="M347.1 515.7V518.2" stroke="#222" stroke-width="1"/>
<text x="347.1" y="528.5" font-family="'Liberation Sans', sans-serif" font-size="11" text-anchor="middle" fill="#000" stroke="#000" stroke-width="0.3">5</text>
<path d="M387.6 515.7V518.2" stroke="#222" stroke-width="1"/>
<text x="387.6" y="528.5" font-family="'Liberation Sans', sans-serif" font-size="11" text-anchor="middle" fill="#000" stroke="#000" stroke-width="0.3">10</text>
<path d="M428.1 515.7V518.2" stroke="#222" stroke-width="1"/>
<text x="428.1" y="528.5" font-family="'Liberation Sans', sans-serif" font-size="11" text-anchor="middle" fill="#000" stroke="#000" stroke-width="0.3">15</text>
<path d="M468.6 515.7V518.2" stroke="#222" stroke-width="1"/>
<text x="468.6" y="528.5" font-family="'Liberation Sans', sans-serif" font-size="11" text-anchor="middle" fill="#000" stroke="#000" stroke-width="0.3">20</text>
<path d="M509.1 515.7V518.2" stroke="#222" stroke-width="1"/>
<text x="509.1" y="528.5" font-family="'Liberation Sans', sans-serif" font-size="11" text-anchor="middle" fill="#000" stroke="#000" stroke-width="0.3">25</text>
<text x="379" y="548.5" font-family="'Liberation Sans', sans-serif" font-size="14" textLength="51.8" lengthAdjust="spacingAndGlyphs" fill="#000">E/T ratio</text>
<text transform="translate(271.2 462.2) rotate(-90)" x="0" y="0" font-family="'Liberation Sans', sans-serif" font-size="13.8" textLength="40.8" lengthAdjust="spacingAndGlyphs" fill="#000">% lysis</text>
<path d="M314.7 482.49L347.1 463.03L387.6 439.62L428.1 422.07L468.6 398.66" fill="none" stroke="#000" stroke-width="1"/>
<path d="M314.7 479.56V485.42M311.4 479.56H318M311.4 485.42H318" stroke="#000" stroke-width="0.9" fill="none"/>
<path d="M347.1 460.11V465.96M343.8 460.11H350.4M343.8 465.96H350.4" stroke="#000" stroke-width="0.9" fill="none"/>
<path d="M387.6 435.24V444.01M384.3 435.24H390.9M384.3 444.01H390.9" stroke="#000" stroke-width="0.9" fill="none"/>
<path d="M428.1 417.68V426.46M424.8 417.68H431.4M424.8 426.46H431.4" stroke="#000" stroke-width="0.9" fill="none"/>
<path d="M468.6 394.27V403.05M465.3 394.27H471.9M465.3 403.05H471.9" stroke="#000" stroke-width="0.9" fill="none"/>
<circle cx="314.7" cy="482.49" r="1.97" fill="#000"/>
<circle cx="347.1" cy="463.03" r="1.97" fill="#000"/>
<circle cx="387.6" cy="439.62" r="1.97" fill="#000"/>
<circle cx="428.1" cy="422.07" r="1.97" fill="#000"/>
<circle cx="468.6" cy="398.66" r="1.97" fill="#000"/>
<path d="M314.7 483.51L347.1 462.3L387.6 441.09L428.1 421.34L468.6 397.2" fill="none" stroke="#000" stroke-width="1"/>
<path d="M314.7 480.59V486.44M311.4 480.59H318M311.4 486.44H318" stroke="#000" stroke-width="0.9" fill="none"/>
<path d="M347.1 459.37V465.23M343.8 459.37H350.4M343.8 465.23H350.4" stroke="#000" stroke-width="0.9" fill="none"/>
<path d="M387.6 435.24V446.94M384.3 435.24H390.9M384.3 446.94H390.9" stroke="#000" stroke-width="0.9" fill="none"/>
<path d="M428.1 415.48V427.19M424.8 415.48H431.4M424.8 427.19H431.4" stroke="#000" stroke-width="0.9" fill="none"/>
<path d="M468.6 392.81V401.59M465.3 392.81H471.9M465.3 401.59H471.9" stroke="#000" stroke-width="0.9" fill="none"/>
<circle cx="314.7" cy="483.51" r="1.64" fill="#fff" stroke="#000" stroke-width="1"/>
<circle cx="347.1" cy="462.3" r="1.64" fill="#fff" stroke="#000" stroke-width="1"/>
<circle cx="387.6" cy="441.09" r="1.64" fill="#fff" stroke="#000" stroke-width="1"/>
<circle cx="428.1" cy="421.34" r="1.64" fill="#fff" stroke="#000" stroke-width="1"/>
<circle cx="468.6" cy="397.2" r="1.64" fill="#fff" stroke="#000" stroke-width="1"/>
<path d="M314.7 483.51L347.1 464.5L387.6 442.55L428.1 423.53L468.6 395.73" fill="none" stroke="#000" stroke-width="1"/>
<path d="M314.7 480.59V486.44M311.4 480.59H318M311.4 486.44H318" stroke="#000" stroke-width="0.9" fill="none"/>
<path d="M347.1 461.57V467.42M343.8 461.57H350.4M343.8 467.42H350.4" stroke="#000" stroke-width="0.9" fill="none"/>
<path d="M387.6 438.16V446.94M384.3 438.16H390.9M384.3 446.94H390.9" stroke="#000" stroke-width="0.9" fill="none"/>
<path d="M428.1 419.14V427.92M424.8 419.14H431.4M424.8 427.92H431.4" stroke="#000" stroke-width="0.9" fill="none"/>
<path d="M468.6 388.42V403.05M465.3 388.42H471.9M465.3 403.05H471.9" stroke="#000" stroke-width="0.9" fill="none"/>
<path d="M314.7 485.81L317 481.79L312.4 481.79Z" fill="#000"/>
<path d="M347.1 466.79L349.4 462.77L344.8 462.77Z" fill="#000"/>
<path d="M387.6 444.85L389.9 440.83L385.3 440.83Z" fill="#000"/>
<path d="M428.1 425.83L430.4 421.81L425.8 421.81Z" fill="#000"/>
<path d="M468.6 398.03L470.9 394.01L466.3 394.01Z" fill="#000"/>
<path d="M314.7 484.98L347.1 465.96L387.6 444.01L428.1 424.99L468.6 401.59" fill="none" stroke="#000" stroke-width="1"/>
<path d="M314.7 482.05V487.9M311.4 482.05H318M311.4 487.9H318" stroke="#000" stroke-width="0.9" fill="none"/>
<path d="M347.1 463.03V468.88M343.8 463.03H350.4M343.8 468.88H350.4" stroke="#000" stroke-width="0.9" fill="none"/>
<path d="M387.6 439.62V448.4M384.3 439.62H390.9M384.3 448.4H390.9" stroke="#000" stroke-width="0.9" fill="none"/>
<path d="M428.1 420.61V429.38M424.8 420.61H431.4M424.8 429.38H431.4" stroke="#000" stroke-width="0.9" fill="none"/>
<path d="M468.6 397.2V405.98M465.3 397.2H471.9M465.3 405.98H471.9" stroke="#000" stroke-width="0.9" fill="none"/>
<path d="M314.7 482.85L316.83 486.58L312.57 486.58Z" fill="#fff" stroke="#000" stroke-width="0.9"/>
<path d="M347.1 463.83L349.23 467.56L344.97 467.56Z" fill="#fff" stroke="#000" stroke-width="0.9"/>
<path d="M387.6 441.88L389.73 445.61L385.47 445.61Z" fill="#fff" stroke="#000" stroke-width="0.9"/>
<path d="M428.1 422.86L430.23 426.59L425.97 426.59Z" fill="#fff" stroke="#000" stroke-width="0.9"/>
<path d="M468.6 399.45L470.73 403.19L466.47 403.19Z" fill="#fff" stroke="#000" stroke-width="0.9"/>
<path d="M314.7 484.25L347.1 470.35L387.6 442.55L428.1 432.89L468.6 405.39" fill="none" stroke="#000" stroke-width="1" stroke-dasharray="9 2.5 2 2.5"/>
<path d="M314.7 481.32V487.17M311.4 481.32H318M311.4 487.17H318" stroke="#000" stroke-width="0.9" fill="none"/>
<path d="M347.1 465.96V474.74M343.8 465.96H350.4M343.8 474.74H350.4" stroke="#000" stroke-width="0.9" fill="none"/>
<path d="M387.6 438.16V446.94M384.3 438.16H390.9M384.3 446.94H390.9" stroke="#000" stroke-width="0.9" fill="none"/>
<path d="M428.1 427.04V438.75M424.8 427.04H431.4M424.8 438.75H431.4" stroke="#000" stroke-width="0.9" fill="none"/>
<path d="M468.6 396.61V414.17M465.3 396.61H471.9M465.3 414.17H471.9" stroke="#000" stroke-width="0.9" fill="none"/>
<path d="M314.7 481.95L317 484.25L314.7 486.54L312.4 484.25Z" fill="#000"/>
<path d="M347.1 468.05L349.4 470.35L347.1 472.64L344.8 470.35Z" fill="#000"/>
<path d="M387.6 440.25L389.9 442.55L387.6 444.85L385.3 442.55Z" fill="#000"/>
<path d="M428.1 430.6L430.4 432.89L428.1 435.19L425.8 432.89Z" fill="#000"/>
<path d="M468.6 403.09L470.9 405.39L468.6 407.69L466.3 405.39Z" fill="#000"/>
<path d="M314.7 485.71L347.1 467.42L387.6 441.09L428.1 427.92L468.6 403.05" fill="none" stroke="#000" stroke-width="1" stroke-dasharray="1 1.5"/>
<path d="M314.7 482.78V488.63M311.4 482.78H318M311.4 488.63H318" stroke="#000" stroke-width="0.9" fill="none"/>
<path d="M347.1 464.5V470.35M343.8 464.5H350.4M343.8 470.35H350.4" stroke="#000" stroke-width="0.9" fill="none"/>
<path d="M387.6 432.31V449.87M384.3 432.31H390.9M384.3 449.87H390.9" stroke="#000" stroke-width="0.9" fill="none"/>
<path d="M428.1 423.53V432.31M424.8 423.53H431.4M424.8 432.31H431.4" stroke="#000" stroke-width="0.9" fill="none"/>
<path d="M468.6 398.66V407.44M465.3 398.66H471.9M465.3 407.44H471.9" stroke="#000" stroke-width="0.9" fill="none"/>
<path d="M314.7 483.41L317 487.43L312.4 487.43Z" fill="#000"/>
<path d="M347.1 465.13L349.4 469.14L344.8 469.14Z" fill="#000"/>
<path d="M387.6 438.79L389.9 442.81L385.3 442.81Z" fill="#000"/>
<path d="M428.1 425.62L430.4 429.64L425.8 429.64Z" fill="#000"/>
<path d="M468.6 400.75L470.9 404.77L466.3 404.77Z" fill="#000"/>
<path d="M314.7 505.02L347.1 487.03L387.6 476.35L428.1 466.84L468.6 443.72" fill="none" stroke="#000" stroke-width="1"/>
<path d="M314.7 502.09V507.95M311.4 502.09H318M311.4 507.95H318" stroke="#000" stroke-width="0.9" fill="none"/>
<path d="M347.1 484.83V489.22M343.8 484.83H350.4M343.8 489.22H350.4" stroke="#000" stroke-width="0.9" fill="none"/>
<path d="M387.6 472.69V480M384.3 472.69H390.9M384.3 480H390.9" stroke="#000" stroke-width="0.9" fill="none"/>
<path d="M428.1 461.72V471.96M424.8 461.72H431.4M424.8 471.96H431.4" stroke="#000" stroke-width="0.9" fill="none"/>
<path d="M468.6 437.87V449.57M465.3 437.87H471.9M465.3 449.57H471.9" stroke="#000" stroke-width="0.9" fill="none"/>
<path d="M314.7 502.89L316.83 505.02L314.7 507.15L312.57 505.02Z" fill="#fff" stroke="#000" stroke-width="1"/>
<path d="M347.1 484.89L349.23 487.03L347.1 489.16L344.97 487.03Z" fill="#fff" stroke="#000" stroke-width="1"/>
<path d="M387.6 474.21L389.73 476.35L387.6 478.48L385.47 476.35Z" fill="#fff" stroke="#000" stroke-width="1"/>
<path d="M428.1 464.7L430.23 466.84L428.1 468.97L425.97 466.84Z" fill="#fff" stroke="#000" stroke-width="1"/>
<path d="M468.6 441.59L470.73 443.72L468.6 445.85L466.47 443.72Z" fill="#fff" stroke="#000" stroke-width="1"/>
<path d="M99.8 587.2V684H175.8" fill="none" stroke="#000" stroke-width="1.4"/>
<text x="95.2" y="694" font-family="'Liberation Sans', sans-serif" font-size="8" fill="#000">10<tspan dy="-3" font-size="6.4">0</tspan></text>
<text x="114.2" y="694" font-family="'Liberation Sans', sans-serif" font-size="8" fill="#000">10<tspan dy="-3" font-size="6.4">1</tspan></text>
<text x="133.2" y="694" font-family="'Liberation Sans', sans-serif" font-size="8" fill="#000">10<tspan dy="-3" font-size="6.4">2</tspan></text>
<text x="152.2" y="694" font-family="'Liberation Sans', sans-serif" font-size="8" fill="#000">10<tspan dy="-3" font-size="6.4">3</tspan></text>
<text x="171.2" y="694" font-family="'Liberation Sans', sans-serif" font-size="8" fill="#000">10<tspan dy="-3" font-size="6.4">4</tspan></text>
<text transform="translate(96.2 686.2) rotate(-90)" font-family="'Liberation Sans', sans-serif" font-size="7.4" fill="#000" stroke="#000" stroke-width="0.2">0</text>
<text transform="translate(96.8 593.5) rotate(-90)" font-family="'Liberation Sans', sans-serif" font-size="7.4" textLength="11.5" lengthAdjust="spacingAndGlyphs" fill="#000" stroke="#000" stroke-width="0.2">128</text>
<text transform="translate(92.5 648.6) rotate(-90)" font-family="'Liberation Sans', sans-serif" font-size="9" textLength="27.2" lengthAdjust="spacingAndGlyphs" fill="#000">Events</text>
<text x="119.8" y="707" font-family="'Liberation Sans', sans-serif" font-size="9" textLength="34.6" lengthAdjust="spacingAndGlyphs" fill="#000">FL2LOG</text>
<text x="120.3" y="588.2" font-family="'Liberation Sans', sans-serif" font-weight="bold" font-size="13.3" textLength="36" lengthAdjust="spacingAndGlyphs" fill="#000">Naive</text>
<path d="M99.8 675.7C100.22 675.08 101.48 673.22 102.3 672C103.12 670.78 103.82 670.6 104.7 668.4C105.58 666.2 106.63 662.83 107.6 658.8C108.57 654.77 109.62 647.52 110.5 644.2C111.38 640.88 112.17 639.55 112.9 638.9C113.63 638.25 114.25 638.62 114.9 640.3C115.55 641.98 116.17 644.63 116.8 649C117.43 653.37 118.05 661 118.7 666.5C119.35 672 120.18 679.08 120.7 682C121.22 684.92 121.62 683.67 121.8 684" fill="none" stroke="#555" stroke-width="1"/>
<path d="M99.8 683C100.62 682.75 103.23 682.63 104.7 681.5C106.17 680.37 107.47 678.38 108.6 676.2C109.73 674.02 110.62 672.43 111.5 668.4C112.38 664.37 113.18 656.68 113.9 652C114.62 647.32 115.27 642.8 115.8 640.3C116.33 637.8 116.68 638.53 117.1 637C117.52 635.47 117.93 631.1 118.3 631.1C118.67 631.1 118.98 635.13 119.3 637C119.62 638.87 119.73 639.8 120.2 642.3C120.67 644.8 121.45 648.13 122.1 652C122.75 655.87 123.28 661.17 124.1 665.5C124.92 669.83 125.87 675.08 127 678C128.13 680.92 129.6 682 130.9 683C132.2 684 127.32 683.83 134.8 684C142.28 684.17 168.97 684 175.8 684" fill="none" stroke="#000" stroke-width="2" stroke-linejoin="round"/>
<path d="M208.8 587.2V684H287.2" fill="none" stroke="#000" stroke-width="1.4"/>
<text x="204.2" y="694" font-family="'Liberation Sans', sans-serif" font-size="8" fill="#000">10<tspan dy="-3" font-size="6.4">0</tspan></text>
<text x="223.8" y="694" font-family="'Liberation Sans', sans-serif" font-size="8" fill="#000">10<tspan dy="-3" font-size="6.4">1</tspan></text>
<text x="243.4" y="694" font-family="'Liberation Sans', sans-serif" font-size="8" fill="#000">10<tspan dy="-3" font-size="6.4">2</tspan></text>
<text x="263" y="694" font-family="'Liberation Sans', sans-serif" font-size="8" fill="#000">10<tspan dy="-3" font-size="6.4">3</tspan></text>
<text x="282.6" y="694" font-family="'Liberation Sans', sans-serif" font-size="8" fill="#000">10<tspan dy="-3" font-size="6.4">4</tspan></text>
<text transform="translate(205.2 686.2) rotate(-90)" font-family="'Liberation Sans', sans-serif" font-size="7.4" fill="#000" stroke="#000" stroke-width="0.2">0</text>
<text transform="translate(205.8 593.5) rotate(-90)" font-family="'Liberation Sans', sans-serif" font-size="7.4" textLength="11.5" lengthAdjust="spacingAndGlyphs" fill="#000" stroke="#000" stroke-width="0.2">128</text>
<text transform="translate(201.5 648.6) rotate(-90)" font-family="'Liberation Sans', sans-serif" font-size="9" textLength="27.2" lengthAdjust="spacingAndGlyphs" fill="#000">Events</text>
<text x="230.6" y="707" font-family="'Liberation Sans', sans-serif" font-size="9" textLength="34.6" lengthAdjust="spacingAndGlyphs" fill="#000">FL2LOG</text>
<text x="236" y="588.2" font-family="'Liberation Sans', sans-serif" font-weight="bold" font-size="13.3" textLength="77.2" lengthAdjust="spacingAndGlyphs" fill="#000">DA1-3b/IL12</text>
<path d="M208.8 676.5C209.38 675.58 211.13 673.12 212.3 671C213.47 668.88 214.55 667.88 215.8 663.8C217.05 659.72 218.65 650.63 219.8 646.5C220.95 642.37 221.83 639.87 222.7 639C223.57 638.13 224.23 638.7 225 641.3C225.77 643.9 226.53 648.92 227.3 654.6C228.07 660.28 228.93 670.5 229.6 675.4C230.27 680.3 231.02 682.57 231.3 684" fill="none" stroke="#555" stroke-width="1"/>
<path d="M208.8 683C209.87 682.6 213.37 682.43 215.2 680.6C217.03 678.77 218.55 675.93 219.8 672C221.05 668.07 221.83 661.83 222.7 657C223.57 652.17 224.28 646.08 225 643C225.72 639.92 226.47 640.42 227 638.5C227.53 636.58 227.8 631.33 228.2 631.5C228.6 631.67 228.78 636.03 229.4 639.5C230.02 642.97 231.1 647.28 231.9 652.3C232.7 657.32 233.23 664.98 234.2 669.6C235.17 674.22 236.15 677.6 237.7 680C239.25 682.4 235.25 683.33 243.5 684C251.75 684.67 279.92 684 287.2 684" fill="none" stroke="#000" stroke-width="2" stroke-linejoin="round"/>
<path d="M333.7 587.2V682H414.5" fill="none" stroke="#000" stroke-width="1.4"/>
<text x="329.1" y="692" font-family="'Liberation Sans', sans-serif" font-size="8" fill="#000">10<tspan dy="-3" font-size="6.4">0</tspan></text>
<text x="349.3" y="692" font-family="'Liberation Sans', sans-serif" font-size="8" fill="#000">10<tspan dy="-3" font-size="6.4">1</tspan></text>
<text x="369.5" y="692" font-family="'Liberation Sans', sans-serif" font-size="8" fill="#000">10<tspan dy="-3" font-size="6.4">2</tspan></text>
<text x="389.7" y="692" font-family="'Liberation Sans', sans-serif" font-size="8" fill="#000">10<tspan dy="-3" font-size="6.4">3</tspan></text>
<text x="409.9" y="692" font-family="'Liberation Sans', sans-serif" font-size="8" fill="#000">10<tspan dy="-3" font-size="6.4">4</tspan></text>
<text transform="translate(330.1 684.2) rotate(-90)" font-family="'Liberation Sans', sans-serif" font-size="7.4" fill="#000" stroke="#000" stroke-width="0.2">0</text>
<text transform="translate(330.7 593.5) rotate(-90)" font-family="'Liberation Sans', sans-serif" font-size="7.4" textLength="11.5" lengthAdjust="spacingAndGlyphs" fill="#000" stroke="#000" stroke-width="0.2">128</text>
<text transform="translate(326.4 648.6) rotate(-90)" font-family="'Liberation Sans', sans-serif" font-size="9" textLength="27.2" lengthAdjust="spacingAndGlyphs" fill="#000">Events</text>
<text x="357.5" y="707" font-family="'Liberation Sans', sans-serif" font-size="9" textLength="34.6" lengthAdjust="spacingAndGlyphs" fill="#000">FL2LOG</text>
<text x="363.3" y="588.2" font-family="'Liberation Sans', sans-serif" font-weight="bold" font-size="13.3" textLength="101.8" lengthAdjust="spacingAndGlyphs" fill="#000">DA1-3b/CXCL10</text>
<path d="M333.7 672.5C334.42 671.38 336.65 669.17 338 665.8C339.35 662.43 340.43 655.9 341.8 652.3C343.17 648.7 344.92 644.37 346.2 644.2C347.48 644.03 348.47 647.38 349.5 651.3C350.53 655.22 351.53 663.05 352.4 667.7C353.27 672.35 354.15 676.82 354.7 679.2C355.25 681.58 355.53 681.53 355.7 682" fill="none" stroke="#555" stroke-width="1"/>
<path d="M353.4 682C354.35 680.25 357.35 676.13 359.1 671.5C360.85 666.87 362.62 659.17 363.9 654.2C365.18 649.23 365.83 644.73 366.8 641.7C367.77 638.67 368.73 635.83 369.7 636C370.67 636.17 371.48 638.38 372.6 642.7C373.72 647.02 375.12 656.3 376.4 661.9C377.68 667.5 378.68 673.03 380.3 676.3C381.92 679.57 384.2 680.55 386.1 681.5C388 682.45 386.98 681.92 391.7 682C396.42 682.08 410.62 682 414.4 682" fill="none" stroke="#000" stroke-width="2" stroke-linejoin="round"/>
<path d="M47.7 720.5H122.7M394.8 720.5H502.5" stroke="#e6e6e6" stroke-width="1.2"/>
</svg>
</body></html>
